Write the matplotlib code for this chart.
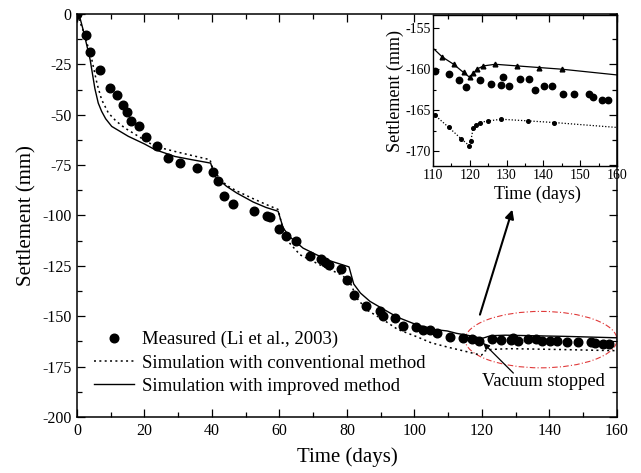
import numpy as np
import matplotlib
matplotlib.use("Agg")
import matplotlib.pyplot as plt
from matplotlib.patches import Ellipse
from matplotlib.ticker import MultipleLocator

plt.rcParams['font.family'] = ['Liberation Serif', 'DejaVu Serif']
plt.rcParams['axes.unicode_minus'] = False

# measured settlement (Li et al., 2003)
meas_t = [0.0, 2.7, 4.0, 6.8, 9.8, 11.8, 13.5, 14.7, 16.0, 18.5, 20.4, 23.8, 27.1,
          30.4, 35.6, 40.2, 41.9, 43.6, 46.3, 52.5, 56.4, 57.3, 59.9, 62.0, 65.0,
          69.0, 72.2, 73.5, 74.8, 78.1, 79.9, 82.2, 85.5, 89.8, 90.8, 94.1, 96.7,
          100.4, 102.6, 104.6, 106.6, 110.5, 114.3, 117.0, 119.1, 122.9, 125.7,
          128.6, 129.1, 130.7, 133.6, 136.1, 137.7, 140.2, 142.3, 145.2, 148.4,
          152.3, 153.5, 155.9, 157.5]
meas_s = [0.0, -10.6, -19.0, -27.6, -36.6, -40.0, -45.0, -48.6, -53.0, -55.4, -61.0,
          -65.7, -71.6, -74.0, -76.6, -78.6, -82.9, -90.5, -94.2, -97.9, -100.4,
          -100.9, -106.5, -110.0, -112.9, -120.0, -121.4, -123.3, -124.4, -126.6,
          -132.2, -139.7, -144.8, -147.2, -150.1, -151.1, -155.0, -155.5, -157.0,
          -157.0, -158.3, -160.2, -160.6, -161.3, -162.2, -161.3, -161.8, -161.9,
          -161.0, -162.1, -161.2, -161.2, -162.5, -162.1, -162.1, -163.0, -163.0,
          -163.0, -163.4, -163.8, -163.7]

# simulation, conventional method
conv_t = [0, 2, 4.4, 6, 7.3, 9.3, 11.5, 14.2, 18, 23.1, 29, 34, 39.4, 40.2, 42, 44.3,
          47.3, 52, 56, 59.6, 60.6, 62.1, 66.1, 72, 78.4, 80.9, 82.9, 86, 90.8, 95,
          100.6, 105, 110.5, 114.3, 117.7, 119.8, 120.3, 120.9, 121.6, 122.7, 125.0,
          128.6, 135.9, 142.9, 160]
conv_s = [0, -9, -22.7, -35, -42.5, -49.1, -53, -56.6, -60.5, -65.7, -68.2, -70.2,
          -72.3, -76.5, -81, -85, -87.8, -91.5, -94.5, -97.0, -104, -112.0, -119.5,
          -124.5, -129.5, -133.0, -141.0, -147, -151.8, -156.5, -160.1, -163.2,
          -165.6, -167.1, -168.5, -169.3, -168.7, -167.2, -166.8, -166.5, -166.3,
          -166.1, -166.3, -166.5, -167.1]

# simulation, improved method
impr_t = [0, 0.9, 2, 3.9, 5.3, 6.3, 7.3, 8.5, 10.3, 15.2, 20, 23.1, 29.0, 34, 39.6,
          40.9, 44.3, 47.3, 52.2, 56, 59.6, 61.1, 63, 67, 71, 75, 80.6, 82.0, 84,
          86.8, 90.8, 95, 100.6, 106, 109.7, 112.5, 115.6, 118.3, 120.0, 121.0,
          121.9, 123.7, 126.9, 132.9, 138.9, 145.0, 160]
impr_s = [0, -2.0, -9, -22.7, -37, -44.2, -48.3, -52, -55.8, -60.7, -64.5, -67.3,
          -70.7, -72.3, -74.0, -80.6, -85.5, -88.8, -93.3, -96, -97.9, -106.2,
          -110.5, -116.2, -119.5, -122.5, -125.5, -134, -138.5, -142.6, -146.5,
          -150.5, -154.2, -156.6, -157.3, -158.5, -159.4, -160.4, -161.0, -160.5,
          -160.0, -159.6, -159.4, -159.6, -159.8, -160.0, -160.7]

fig = plt.figure(figsize=(6.41, 4.73), dpi=100)
ax = fig.add_axes([0.1201, 0.1184, 0.8424, 0.852])

dotted = (0, (1.3, 2.2))
ax.plot(meas_t, meas_s, 'o', color='k', ms=6.2, label='Measured (Li et al., 2003)')
ax.plot(conv_t, conv_s, color='k', lw=1.1, ls=dotted,
        label='Simulation with conventional method')
ax.plot(impr_t, impr_s, color='k', lw=1.0, label='Simulation with improved method')

ax.set_xlim(0, 160)
ax.set_ylim(-200, 0)
ax.xaxis.set_major_locator(MultipleLocator(20))
ax.xaxis.set_minor_locator(MultipleLocator(10))
ax.yaxis.set_major_locator(MultipleLocator(25))
ax.yaxis.set_minor_locator(MultipleLocator(12.5))
ax.tick_params(which='both', direction='in', top=True, right=True, width=0.9,
               labelsize=11.5, pad=4)
ax.tick_params(which='major', length=6)
ax.tick_params(which='minor', length=3.5)
for sp in ax.spines.values():
    sp.set_linewidth(1.1)
ax.set_xlabel('Time (days)', fontsize=15, labelpad=6)
ax.set_ylabel('Settlement (mm)', fontsize=15, labelpad=4)

ax.legend(loc='lower left', bbox_to_anchor=(0.032, 0.055), frameon=False,
          fontsize=13.5, handlelength=2.1, handletextpad=0.45, labelspacing=0.33,
          borderaxespad=0, borderpad=0, numpoints=1)

# zoomed window after the vacuum is switched off
ax.add_patch(Ellipse((137.5, -161.6), 45, 28, fill=False, ec='#e03a3a', lw=0.8,
                     ls=(0, (5, 2, 1, 2))))
ax.text(119.9, -182.5, 'Vacuum stopped', fontsize=13.3, va='center', ha='left')
ax.annotate('', xy=(120.4, -163.3), xytext=(129.3, -178.2),
            arrowprops=dict(arrowstyle='-|>', color='k', lw=0.9, mutation_scale=9,
                            shrinkA=0, shrinkB=0))
ax.annotate('', xy=(129.0, -97.1), xytext=(119.4, -149.2),
            arrowprops=dict(arrowstyle='-|>', color='k', lw=1.5, mutation_scale=13,
                            shrinkA=0, shrinkB=0))

# inset
axi = fig.add_axes([0.6755, 0.649, 0.2871, 0.3192])
axi.set_facecolor('none')
ct = np.array(conv_t)
it = np.array(impr_t)
axi.plot(meas_t, meas_s, 'o', color='k', ms=4.6)
axi.plot(conv_t, conv_s, color='k', lw=0.9, ls=(0, (1, 1.5)))
cm = (ct > 110) & (ct < 160)
axi.plot(ct[cm], np.array(conv_s)[cm], 'o', color='k', ms=2.6)
axi.plot(impr_t, impr_s, color='k', lw=0.9)
im = (it > 110) & (it < 160)
axi.plot(it[im], np.array(impr_s)[im], '^', color='k', ms=3.4)
axi.set_xlim(110, 160)
axi.set_ylim(-171.8, -153.4)
axi.xaxis.set_major_locator(MultipleLocator(10))
axi.xaxis.set_minor_locator(MultipleLocator(5))
axi.yaxis.set_major_locator(MultipleLocator(5))
axi.yaxis.set_minor_locator(MultipleLocator(2.5))
axi.tick_params(which='both', direction='in', width=0.8, labelsize=10)
axi.tick_params(axis='y', pad=1.5)
axi.tick_params(axis='x', pad=2)
axi.tick_params(which='major', length=4)
axi.tick_params(which='minor', length=2.5)
for sp in axi.spines.values():
    sp.set_linewidth(1.0)
axi.set_xlabel('Time (days)', fontsize=13, labelpad=0)
axi.xaxis.set_label_coords(0.57, -0.13)
axi.set_ylabel('Settlement (mm)', fontsize=13, labelpad=1)

fig.savefig('out.png', dpi=100)
